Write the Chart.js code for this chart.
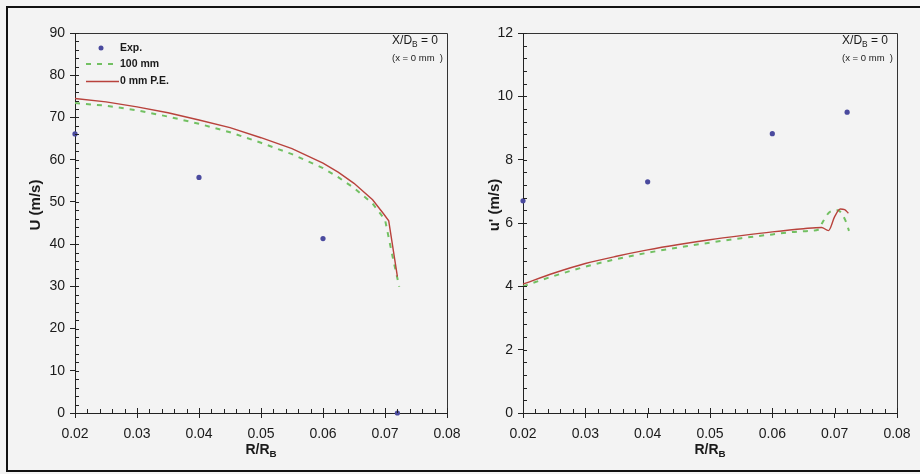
<!DOCTYPE html>
<html>
<head>
<meta charset="utf-8">
<script src="https://cdn.jsdelivr.net/npm/chart.js@4/dist/chart.umd.min.js"></script>
<style>
html, body { margin: 0; padding: 0; background: #f3f3f3; }
#page { position: relative; width: 920px; height: 474px; overflow: hidden; background: #f3f3f3; }
#frame { position: absolute; left: 6px; top: 6px; width: 940px; height: 466px; border: 2px solid #111; border-right: none; box-sizing: border-box; }
.box { position: absolute; top: 0; height: 474px; }
</style>
</head>
<body>
<div id="page">
  <div id="frame"></div>
  <div class="box" style="left:0;width:470px"><canvas id="chart_u" width="470" height="474"></canvas></div>
  <div class="box" style="left:460px;width:460px"><canvas id="chart_uprime" width="460" height="474"></canvas></div>
</div>
<script>
// measured points (same radial stations for both panels)
var rExp = [0.02, 0.04, 0.06, 0.072];
var uExp = [66.1, 55.8, 41.3, 0];
var uprimeExp = [6.7, 7.3, 8.82, 9.5];

// mean velocity U, simulations
var rSolidU = [0.020, 0.025, 0.030, 0.035, 0.040, 0.045, 0.050, 0.055, 0.060, 0.0625, 0.065, 0.068, 0.0697, 0.0706, 0.0720];
var uSolid = [74.5, 73.7, 72.5, 71.1, 69.4, 67.6, 65.2, 62.6, 59.2, 57.0, 54.4, 50.5, 47.3, 45.5, 32.3];
var rDashU = [0.020, 0.025, 0.030, 0.035, 0.040, 0.045, 0.050, 0.055, 0.060, 0.0625, 0.065, 0.068, 0.0700, 0.0706, 0.0713, 0.0723];
var uDash = [73.4, 72.8, 71.7, 70.2, 68.5, 66.5, 64.0, 61.3, 58.0, 55.8, 53.3, 49.6, 45.8, 41.5, 36.5, 29.9];

// fluctuation u', simulations
var rSolidUp = [0.020, 0.025, 0.030, 0.035, 0.040, 0.045, 0.050, 0.055, 0.060, 0.065, 0.0679, 0.0690, 0.0700, 0.0709, 0.0716, 0.0722];
var upSolid = [4.07, 4.42, 4.72, 4.95, 5.15, 5.32, 5.47, 5.6, 5.72, 5.82, 5.86, 5.76, 6.2, 6.44, 6.42, 6.31];
var rDashUp = [0.020, 0.025, 0.030, 0.035, 0.040, 0.045, 0.050, 0.055, 0.060, 0.065, 0.0675, 0.0680, 0.0693, 0.0705, 0.0717, 0.0723];
var upDash = [4.0, 4.33, 4.62, 4.86, 5.06, 5.23, 5.38, 5.52, 5.64, 5.74, 5.8, 6.0, 6.36, 6.4, 6.09, 5.75];

var legendLabels = ['Exp.', '100 mm', '0 mm P.E.'];

var FONT = "'Liberation Sans', Arial, sans-serif";
var EXP_COLOR = '#4a4a9e';
var SOLID_COLOR = '#b8423c';
var DASH_COLOR = '#72c062';

function pts(xs, ys) {
    return xs.map(function(x, i) { return {x: x, y: ys[i]}; });
}

// text with a subscript piece, drawn left to right
function partsWidth(ctx, parts, size, bold) {
    var w = 0;
    parts.forEach(function(p) {
        ctx.font = (bold ? 'bold ' : '') + (p.sub ? size * 0.7 : size) + 'px ' + FONT;
        w += ctx.measureText(p.t).width;
    });
    return w;
}
function drawParts(ctx, parts, x, y, size, bold, align) {
    var w = partsWidth(ctx, parts, size, bold);
    var cx = align === 'right' ? x - w : (align === 'center' ? x - w / 2 : x);
    ctx.textAlign = 'left';
    ctx.textBaseline = 'middle';
    parts.forEach(function(p) {
        ctx.font = (bold ? 'bold ' : '') + (p.sub ? size * 0.7 : size) + 'px ' + FONT;
        ctx.fillText(p.t, cx, p.sub ? y + size * 0.3 : y);
        cx += ctx.measureText(p.t).width;
    });
}

var decorPlugin = {
    id: 'decor',
    afterDraw: function(chart, args, opts) {
        var ctx = chart.ctx;
        var a = chart.chartArea;
        var xs = chart.scales.x, ys = chart.scales.y;
        ctx.save();
        // box top and right
        ctx.strokeStyle = '#333';
        ctx.lineWidth = 1;
        ctx.beginPath();
        ctx.moveTo(a.left, a.top + 0.5);
        ctx.lineTo(a.right + 0.5, a.top + 0.5);
        ctx.lineTo(a.right + 0.5, a.bottom);
        ctx.stroke();
        // minor ticks pointing inside
        ctx.strokeStyle = '#222';
        ctx.beginPath();
        for (var v = xs.min; v <= xs.max + 1e-9; v += 0.002) {
            var px = Math.round(xs.getPixelForValue(v)) + 0.5;
            var major = Math.abs(Math.round(v * 100) - v * 100) < 1e-6;
            ctx.moveTo(px, a.bottom);
            ctx.lineTo(px, a.bottom - (major ? 5 : 4));
        }
        for (var w = ys.min; w <= ys.max + 1e-9; w += opts.minorY) {
            var py = Math.round(ys.getPixelForValue(w)) + 0.5;
            ctx.moveTo(a.left, py);
            ctx.lineTo(a.left + 4, py);
        }
        ctx.stroke();

        ctx.fillStyle = '#1a1a1a';
        // y title, rotated
        ctx.save();
        ctx.translate(opts.yTitleX, 205);
        ctx.rotate(-Math.PI / 2);
        ctx.font = 'bold 15px ' + FONT;
        ctx.textAlign = 'center';
        ctx.textBaseline = 'middle';
        ctx.fillText(opts.yTitle, 0, 0);
        ctx.restore();
        // x title R/R_B
        drawParts(ctx, [{t: 'R/R'}, {t: 'B', sub: true}], (a.left + a.right) / 2, 450, 14, true, 'center');
        // station note
        drawParts(ctx, [{t: 'X/D'}, {t: 'B', sub: true}, {t: ' = 0'}], a.right - 9, 41, 12, false, 'right');
        ctx.font = '9.5px ' + FONT;
        ctx.textAlign = 'right';
        ctx.textBaseline = 'middle';
        ctx.fillText('(x = 0 mm  )', a.right - 4, 58);

        if (opts.legend) {
            var lx = a.left + 11, tx = a.left + 45;
            ctx.fillStyle = EXP_COLOR;
            ctx.beginPath();
            ctx.arc(a.left + 26, 48, 2.5, 0, Math.PI * 2);
            ctx.fill();
            ctx.strokeStyle = DASH_COLOR;
            ctx.lineWidth = 2;
            ctx.setLineDash([5, 6]);
            ctx.beginPath();
            ctx.moveTo(lx, 64);
            ctx.lineTo(a.left + 38, 64);
            ctx.stroke();
            ctx.setLineDash([]);
            ctx.strokeStyle = SOLID_COLOR;
            ctx.lineWidth = 1.3;
            ctx.beginPath();
            ctx.moveTo(lx, 81.5);
            ctx.lineTo(a.left + 44, 81.5);
            ctx.stroke();
            ctx.fillStyle = '#1a1a1a';
            ctx.font = 'bold 10.5px ' + FONT;
            ctx.textAlign = 'left';
            ctx.fillText(legendLabels[0], tx, 48);
            ctx.fillText(legendLabels[1], tx, 64);
            ctx.fillText(legendLabels[2], tx, 81.5);
        }
        ctx.restore();
    }
};

function make_chart(canvas_id, series, yMax, yStep, yMinor, yTitle, yWidth, padRight, yTitleX, legend, tension) {
    var canvas = document.getElementById(canvas_id);
    var curve = tension ? {cubicInterpolationMode: 'monotone'} : {tension: 0};
    return new Chart(canvas, {
        type: 'scatter',
        data: {
            datasets: [{
                data: series.exp,
                showLine: false,
                pointRadius: 2.6,
                pointBackgroundColor: EXP_COLOR,
                pointBorderWidth: 0,
                clip: false,
                order: 0
            }, Object.assign({
                data: series.dash,
                showLine: true,
                borderColor: DASH_COLOR,
                borderWidth: 2,
                borderDash: [5, 6],
                pointRadius: 0,
                clip: false,
                order: 2
            }, curve), Object.assign({
                data: series.solid,
                showLine: true,
                borderColor: SOLID_COLOR,
                borderWidth: 1.4,
                pointRadius: 0,
                clip: false,
                order: 1
            }, curve)]
        },
        options: {
            responsive: false,
            animation: false,
            events: [],
            layout: { padding: { left: 0, top: 33, right: padRight, bottom: 0 } },
            plugins: {
                legend: { display: false },
                tooltip: { enabled: false },
                decor: { minorY: yMinor, yTitle: yTitle, yTitleX: yTitleX, legend: legend }
            },
            scales: {
                x: {
                    type: 'linear',
                    min: 0.02,
                    max: 0.08,
                    afterFit: function(scale) { scale.height = 61; },
                    afterBuildTicks: function(scale) {
                        scale.ticks = [0.02, 0.03, 0.04, 0.05, 0.06, 0.07, 0.08].map(function(v) { return {value: v}; });
                    },
                    ticks: {
                        autoSkip: false,
                        maxRotation: 0,
                        padding: 8,
                        color: '#1a1a1a',
                        font: { family: FONT, size: 14 },
                        callback: function(v) { return v.toFixed(2); }
                    },
                    grid: { drawOnChartArea: false, tickLength: 5, color: '#222', tickWidth: 1 },
                    border: { display: true, color: '#222', width: 1 }
                },
                y: {
                    type: 'linear',
                    min: 0,
                    max: yMax,
                    afterFit: function(scale) { scale.width = yWidth; },
                    ticks: {
                        stepSize: yStep,
                        padding: 5,
                        color: '#1a1a1a',
                        font: { family: FONT, size: 14 }
                    },
                    grid: { drawOnChartArea: false, tickLength: 5, color: '#222', tickWidth: 1 },
                    border: { display: true, color: '#222', width: 1 }
                }
            }
        },
        plugins: [decorPlugin]
    });
}

make_chart('chart_u', {
    exp: pts(rExp, uExp),
    solid: pts(rSolidU, uSolid),
    dash: pts(rDashU, uDash)
}, 90, 10, 2, 'U (m/s)', 75, 23, 36, true, false);

make_chart('chart_uprime', {
    exp: pts(rExp, uprimeExp),
    solid: pts(rSolidUp, upSolid),
    dash: pts(rDashUp, upDash)
}, 12, 2, 0.4, "u' (m/s)", 63, 23, 35, false, true);
</script>
</body>
</html>
